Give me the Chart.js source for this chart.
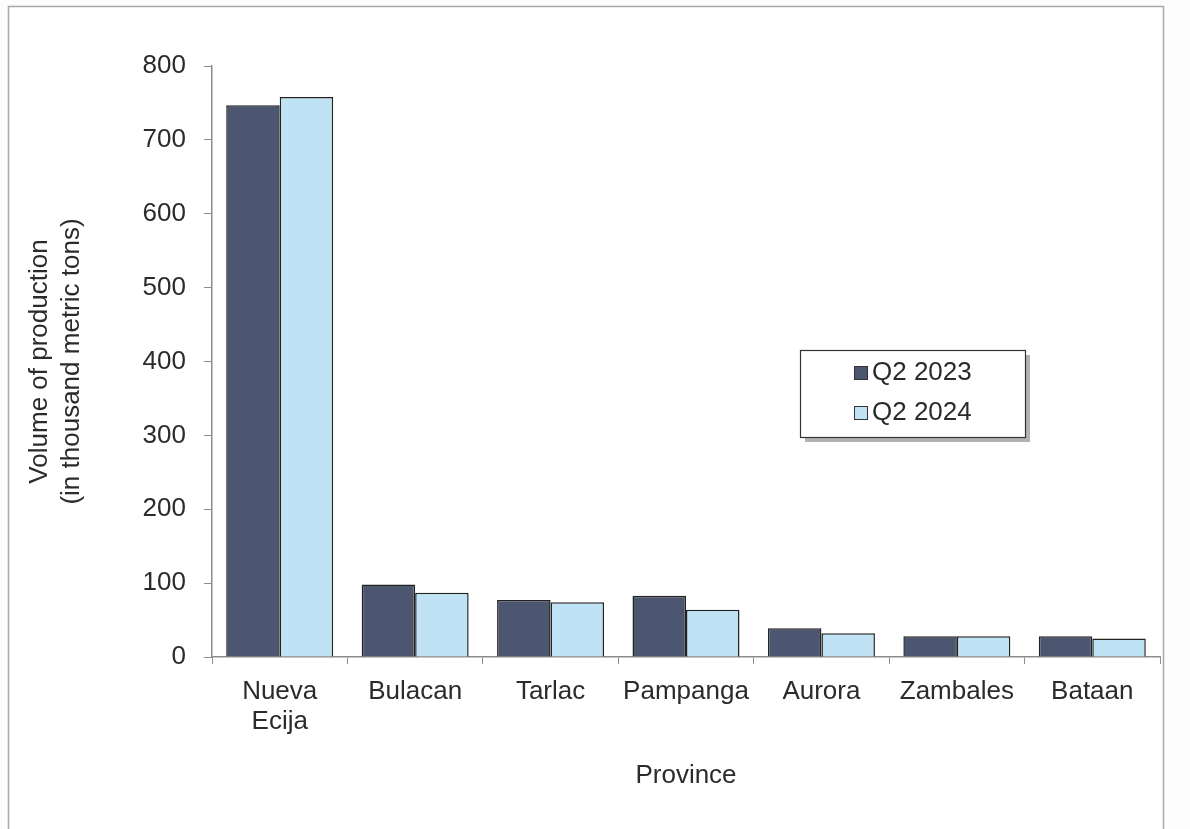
<!DOCTYPE html>
<html>
<head>
<meta charset="utf-8">
<style>
  html, body { margin: 0; padding: 0; background: #fdfdfd; }
  #wrap { position: relative; width: 1190px; height: 829px; }
</style>
<script src="https://cdn.jsdelivr.net/npm/chart.js@4/dist/chart.umd.min.js"></script>
</head>
<body>
<div id="wrap"><canvas id="myChart" width="1190" height="829"></canvas></div>
<script>
// provinces, volume of palay production (thousand metric tons)
const provinces = [["Nueva", "Ecija"], "Bulacan", "Tarlac", "Pampanga", "Aurora", "Zambales", "Bataan"];
const q2_2023 = [747, 98, 77, 83, 39, 28, 28];
const q2_2024 = [758, 87, 74, 64, 32, 28, 25];
const yTicks = [0, 100, 200, 300, 400, 500, 600, 700, 800];

const textColor = "#2b2b2b";
const axisColor = "#8c8c8c";
const fontFam = "'Liberation Sans', Arial, sans-serif";

// frame round the whole chart
const framePlugin = {
  id: "frame",
  beforeDraw(chart) {
    const c = chart.ctx;
    c.save();
    c.fillStyle = "#ffffff";
    c.fillRect(8, 6, 1156, 830);
    c.strokeStyle = "#a9a9a9";
    c.lineWidth = 1.5;
    c.strokeRect(8.5, 6.5, 1155, 830);
    c.restore();
  }
};

// boxed legend with a drop shadow, sitting inside the plot
const boxLegend = {
  id: "boxLegend",
  afterDraw(chart) {
    const c = chart.ctx;
    const x = 800, y = 350, w = 225, h = 87;
    c.save();
    c.fillStyle = "rgba(0,0,0,0.3)";
    c.fillRect(x + 5, y + 5, w, h);
    c.fillStyle = "#ffffff";
    c.fillRect(x, y, w, h);
    c.strokeStyle = "#333";
    c.lineWidth = 1.2;
    c.strokeRect(x + 0.5, y + 0.5, w, h);
    c.font = "26px " + fontFam;
    c.textBaseline = "middle";
    chart.data.datasets.forEach((ds, i) => {
      const ly = y + 22 + i * 40;
      c.fillStyle = ds.backgroundColor;
      c.fillRect(x + 54, ly - 6, 13, 13);
      c.strokeStyle = "#333";
      c.lineWidth = 1;
      c.strokeRect(x + 54.5, ly - 5.5, 13, 13);
      c.fillStyle = textColor;
      c.fillText(ds.label, x + 72, ly + 1);
    });
    c.restore();
  }
};

const ctx = document.getElementById("myChart").getContext("2d");
const myChart = new Chart(ctx, {
  type: "bar",
  data: {
    labels: provinces,
    datasets: [
      {
        label: "Q2 2023",
        data: q2_2023,
        backgroundColor: "#4c5670",
        borderColor: "#222",
        borderWidth: 1.5,
        borderSkipped: "bottom"
      },
      {
        label: "Q2 2024",
        data: q2_2024,
        backgroundColor: "#bfe3f4",
        borderColor: "#222",
        borderWidth: 1.5,
        borderSkipped: "bottom"
      }
    ]
  },
  options: {
    responsive: false,
    animation: false,
    layout: { padding: { left: 22, right: 30, top: 66, bottom: 30 } },
    plugins: {
      legend: { display: false },
      tooltip: { enabled: false }
    },
    datasets: {
      bar: { categoryPercentage: 0.79, barPercentage: 1 }
    },
    scales: {
      x: {
        offset: true,
        afterFit(scale) { scale.height = 142; },
        grid: {
          offset: true,
          drawOnChartArea: false,
          drawTicks: true,
          tickLength: 7,
          color: axisColor
        },
        border: { color: axisColor, width: 1.5 },
        ticks: {
          color: textColor,
          font: { family: fontFam, size: 26, lineHeight: 1.15 },
          padding: 13,
          maxRotation: 0,
          autoSkip: false
        },
        title: {
          display: true,
          text: "Province",
          color: textColor,
          font: { family: fontFam, size: 26 },
          padding: { top: 0, bottom: 8 }
        }
      },
      y: {
        min: 0,
        max: 800,
        afterFit(scale) { scale.width = 190; },
        afterBuildTicks(scale) { scale.ticks = yTicks.map(v => ({ value: v })); },
        grid: {
          drawOnChartArea: false,
          drawTicks: true,
          tickLength: 8,
          color: axisColor
        },
        border: { color: axisColor, width: 1.5 },
        ticks: {
          color: textColor,
          font: { family: fontFam, size: 26 },
          padding: 18
        },
        title: {
          display: true,
          text: ["Volume of production", "(in thousand metric tons)"],
          color: textColor,
          font: { family: fontFam, size: 26, lineHeight: 1.23 },
          padding: { top: 2, bottom: 0 }
        }
      }
    }
  },
  plugins: [framePlugin, boxLegend]
});
</script>
</body>
</html>
